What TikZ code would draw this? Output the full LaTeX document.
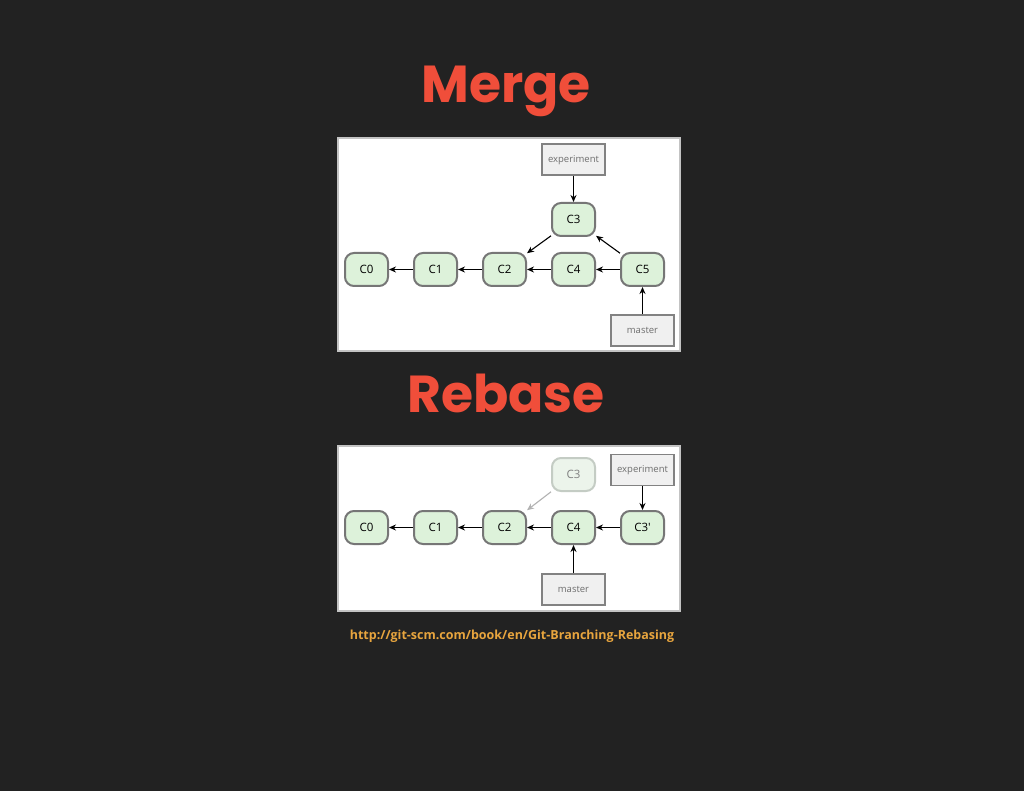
\documentclass[tikz,border=0pt]{standalone}
\usepackage{fontspec}
\setmainfont{Open Sans}
\newfontfamily\titlefont{Poppins}
\usetikzlibrary{positioning,arrows.meta}

\definecolor{slidebg}{RGB}{34,34,34}
\definecolor{titlered}{RGB}{240,78,58}
\definecolor{linkorange}{RGB}{232,165,62}
\definecolor{panelline}{RGB}{195,195,195}
\definecolor{commitline}{RGB}{118,118,118}
\definecolor{commitfill}{RGB}{221,242,218}
\definecolor{oldline}{RGB}{196,204,196}
\definecolor{oldfill}{RGB}{236,244,235}
\definecolor{reffill}{RGB}{240,240,240}
\definecolor{refline}{RGB}{130,130,130}
\definecolor{reftext}{RGB}{110,110,110}

\tikzset{
  commit/.style={draw=commitline, fill=commitfill, line width=2pt, rounded corners=9pt,
    minimum width=43pt, minimum height=33pt, inner sep=0pt, font=\fontsize{11.5}{11.5}\selectfont},
  oldcommit/.style={commit, draw=oldline, fill=oldfill, text=gray},
  branchref/.style={draw=refline, fill=reffill, line width=1.5pt, minimum width=63pt,
    minimum height=31pt, inner sep=0pt, text=reftext, font=\fontsize{9.5}{9.5}\selectfont},
  parent/.style={-{Stealth[length=7pt,width=6pt]}, line width=1.1pt},
  oldparent/.style={parent, draw=gray!60},
  panel/.style={draw=panelline, fill=white, line width=1.5pt, inner sep=0pt},
  heading/.style={anchor=base, text=titlered, font=\titlefont\bfseries\fontsize{52}{52}\selectfont},
}

\begin{document}
\begin{tikzpicture}[x=1pt, y=-1pt, node distance=24pt]
  \fill[slidebg] (0,0) rectangle (1024,791);
  \useasboundingbox (0,0) rectangle (1024,791);

  % merge
  \node[heading] (mergetitle) at (506,103) {Merge};
  \node[panel, minimum width=342pt, minimum height=213pt] (mergepanel) at (509,244.5) {};

  \node[commit] (m0) at (366.5,269.5) {C0};
  \node[commit] (m1) [right=of m0] {C1};
  \node[commit] (m2) [right=of m1] {C2};
  \node[commit] (m4) [right=of m2] {C4};
  \node[commit] (m5) [right=of m4] {C5};
  \node[commit] (m3) [above=15pt of m4] {C3};
  \node[branchref] (mexp) [above=26pt of m3] {experiment};
  \node[branchref] (mmaster) [below=27pt of m5] {master};

  \draw[parent] (m1) -- (m0);
  \draw[parent] (m2) -- (m1);
  \draw[parent] (m4) -- (m2);
  \draw[parent] (m5) -- (m4);
  \draw[parent] (m3) -- (m2);
  \draw[parent] (m5) -- (m3);
  \draw[parent] (mexp) -- (m3);
  \draw[parent] (mmaster) -- (m5);

  % rebase
  \node[heading] (rebasetitle) at (506,412) {Rebase};
  \node[panel, minimum width=342pt, minimum height=165pt] (rebasepanel) at (509,528.5) {};

  \node[commit] (r0) at (366.5,527.5) {C0};
  \node[commit] (r1) [right=of r0] {C1};
  \node[commit] (r2) [right=of r1] {C2};
  \node[commit] (r4) [right=of r2] {C4};
  \node[commit] (r3new) [right=of r4] {C3\textquotesingle};
  \node[oldcommit] (r3) [above=18pt of r4] {C3};
  \node[branchref] (rexp) [above=24pt of r3new] {experiment};
  \node[branchref] (rmaster) [below=28pt of r4] {master};

  \draw[parent] (r1) -- (r0);
  \draw[parent] (r2) -- (r1);
  \draw[parent] (r4) -- (r2);
  \draw[parent] (r3new) -- (r4);
  \draw[oldparent] (r3) -- (r2);
  \draw[parent] (rexp) -- (r3new);
  \draw[parent] (rmaster) -- (r4);

  \node[anchor=base, text=linkorange, font=\bfseries\fontsize{12.5}{12.5}\selectfont] (source) at (512,639)
    {http://git-scm.com/book/en/Git-Branching-Rebasing};
\end{tikzpicture}
\end{document}
